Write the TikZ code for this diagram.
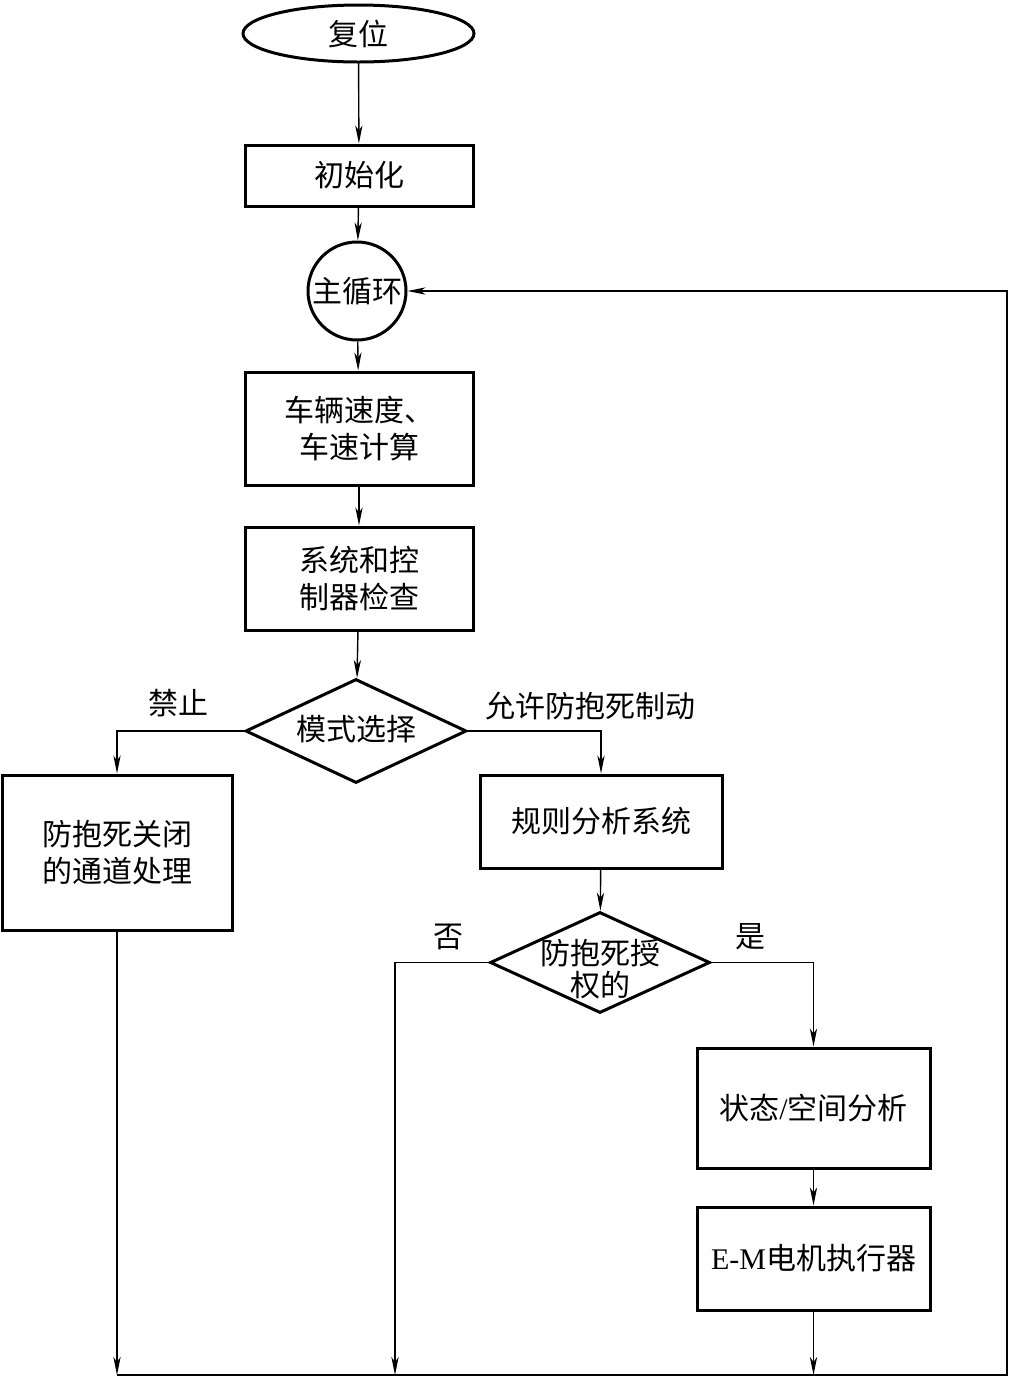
\documentclass[tikz,border=0pt]{standalone}
\usepackage{fontspec}
\setmainfont{Liberation Serif}
\newfontfamily\cjk{Noto Sans CJK SC}
\usetikzlibrary{shapes.geometric,arrows.meta}
\newcommand\zhtext{\cjk\fontsize{15}{18.5}\selectfont}
\newcommand\lat[1]{{\rmfamily\fontsize{15}{18.5}\selectfont #1}}
\begin{document}
\begin{tikzpicture}[x=0.5pt,y=-0.5pt,
  shapebox/.style={draw, line width=1.5pt, rectangle, inner sep=0pt, align=center, font=\zhtext},
  conn/.style={line width=0.7pt, -{Stealth[length=9pt,width=3.6pt,inset=2.5pt]}},
  plain/.style={line width=0.7pt},
  lbl/.style={inner sep=0pt, font=\zhtext, align=center}]
\useasboundingbox (0,0) rectangle (1010,1377);

\node[draw, ellipse, line width=1.5pt, minimum width=115.5pt, minimum height=28.5pt, inner sep=0pt, font=\zhtext] (reset) at (358.5,33.5) {复位};
\node[shapebox, minimum width=114pt, minimum height=30.5pt] (init) at (359,175.5) {初始化};
\node[draw, circle, line width=1.5pt, minimum size=49pt, inner sep=0pt] (loop) at (357,291) {};
\node[lbl] (looptext) at (357,291) {主循环};
\node[shapebox, minimum width=114pt, minimum height=56.5pt] (speed) at (359,428.5) {车辆速度、\\车速计算};
\node[shapebox, minimum width=114pt, minimum height=51.5pt] (check) at (359,578.5) {系统和控\\制器检查};
\node[draw, diamond, line width=1.5pt, minimum width=110.5pt, minimum height=52pt, inner sep=0pt] (mode) at (356,731) {};
\node[lbl] (modetext) at (356,729) {模式选择};
\node[shapebox, minimum width=115pt, minimum height=77.5pt] (off) at (117,852.5) {防抱死关闭\\的通道处理};
\node[shapebox, minimum width=121pt, minimum height=46.5pt] (rule) at (601,821.5) {规则分析系统};
\node[draw, diamond, line width=1.5pt, minimum width=110pt, minimum height=50.5pt, inner sep=0pt] (auth) at (600,962.5) {};
\node[lbl, font=\cjk\fontsize{15}{16}\selectfont] (authtext) at (600,969) {防抱死授\\权的};
\node[shapebox, minimum width=116.5pt, minimum height=60pt] (state) at (813.5,1108) {状态\lat{/}空间分析};
\node[shapebox, minimum width=116.5pt, minimum height=51.5pt] (em) at (813.5,1258.5) {\lat{E-M}电机执行器};

\node[lbl] (forbid) at (178,703) {禁止};
\node[lbl] (allow) at (590,706) {允许防抱死制动};
\node[lbl] (no) at (448,937) {否};
\node[lbl] (yes) at (750,937) {是};

\coordinate (b1) at (off.south |- 0,1375);
\coordinate (b2) at (395,1375);
\coordinate (b3) at (em.south |- 0,1375);
\coordinate (br) at (1007,1375);
\coordinate (tr) at (1007,291);

\draw[conn] (reset) -- (init);
\draw[conn] (init) -- (loop);
\draw[conn] (loop) -- (speed);
\draw[conn] (speed) -- (check);
\draw[conn] (check) -- (mode);
\draw[conn] (mode.west) -| (off.north);
\draw[conn] (mode.east) -| (rule.north);
\draw[conn] (rule) -- (auth);
\draw[conn] (auth.east) -| (state.north);
\draw[conn] (state) -- (em);
\draw[conn] (auth.west) -| (b2);
\draw[conn] (off.south) -- (b1);
\draw[conn] (em.south) -- (b3);
\draw[conn] (b1) -- (br) -- (tr) -- (loop.east);
\end{tikzpicture}
\end{document}
